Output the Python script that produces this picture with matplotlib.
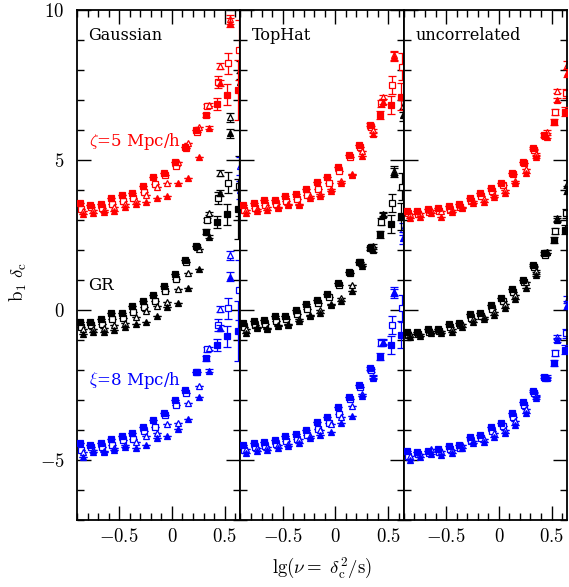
import matplotlib
matplotlib.use('Agg')
import matplotlib.pyplot as plt
from matplotlib.ticker import MultipleLocator, FuncFormatter

plt.rcParams['font.family'] = 'cmr10'
plt.rcParams['mathtext.fontset'] = 'cm'
plt.rcParams['axes.formatter.use_mathtext'] = True

# x positions (lg nu) of the square and triangle symbols
X_SQ = [-0.875, -0.775, -0.675, -0.575, -0.475, -0.375, -0.275, -0.175,
        -0.075, 0.025, 0.125, 0.225, 0.325, 0.425, 0.525, 0.625]
X_OSQ = [-0.865, -0.765, -0.665, -0.565, -0.465, -0.365, -0.265, -0.165,
         -0.065, 0.035, 0.135, 0.235, 0.335, 0.435, 0.535, 0.635]
X_TRI = [-0.845, -0.745, -0.645, -0.545, -0.445, -0.345, -0.245, -0.145,
         -0.045, 0.055, 0.155, 0.255, 0.355, 0.455, 0.555, 0.645]

# ---- Gaussian ----
G_RED_FS = [3.58, 3.50, 3.53, 3.72, 3.83, 3.91, 4.15, 4.43, 4.58, 4.94, 5.44, 6.00, 6.50, 6.87, 7.17, 7.33]
G_RED_OS = [3.38, 3.42, 3.40, 3.55, 3.65, 3.75, 3.95, 4.20, 4.50, 4.80, 5.40, 5.95, 6.80, 7.60, 8.22, 8.67]
G_RED_OT = [3.30, 3.35, 3.35, 3.45, 3.55, 3.65, 3.85, 4.10, 4.24, 4.95, 5.58, 6.10, 6.85, 8.14, 9.70, 11.5]
G_RED_FT = [3.20, 3.25, 3.28, 3.30, 3.42, 3.55, 3.60, 3.75, 3.80, 4.24, 4.39, 5.11, 6.08, 7.56, 9.58, 11.2]
G_BLK_FS = [-0.39, -0.39, -0.31, -0.11, -0.10, 0.14, 0.31, 0.50, 0.80, 1.19, 1.67, 2.14, 2.61, 2.94, 3.20, 3.36]
G_BLK_OS = [-0.55, -0.50, -0.47, -0.30, -0.25, -0.05, 0.10, 0.30, 0.62, 1.05, 1.60, 2.10, 3.00, 3.72, 4.24, 4.15]
G_BLK_OT = [-0.63, -0.62, -0.60, -0.50, -0.42, -0.22, -0.03, 0.13, 0.26, 0.69, 1.22, 2.05, 3.22, 4.56, 6.42, 8.0]
G_BLK_FT = [-0.80, -0.74, -0.72, -0.66, -0.58, -0.45, -0.40, -0.20, 0.10, 0.24, 0.72, 1.36, 2.44, 3.89, 5.89, 7.6]
G_BLU_FS = [-4.44, -4.50, -4.44, -4.30, -4.19, -4.09, -3.89, -3.67, -3.42, -3.00, -2.67, -2.06, -1.61, -1.17, -0.87, -0.69]
G_BLU_OS = [-4.67, -4.58, -4.58, -4.50, -4.33, -4.31, -4.03, -3.89, -3.50, -3.17, -2.75, -2.05, -1.31, -0.50, 0.06, 0.67]
G_BLU_OT = [-4.72, -4.67, -4.70, -4.60, -4.50, -4.40, -4.20, -4.10, -3.80, -3.75, -3.11, -2.53, -1.28, 0.02, 1.83, 4.8]
G_BLU_FT = [-4.89, -4.72, -4.72, -4.67, -4.56, -4.61, -4.50, -4.28, -4.20, -3.95, -3.64, -2.91, -2.02, -0.60, 1.11, 4.0]
G_SQ_ERR = [0, 0, 0, 0, 0, 0, 0, 0, 0, 0, 0, 0, 0.08, 0.2, 0.35, 1.0]
G_TRI_ERR = [0, 0, 0, 0, 0, 0, 0, 0, 0, 0, 0, 0, 0.05, 0.1, 0.15, 0.3]

# ---- TopHat ----
T_RED_FS = [3.50, 3.56, 3.67, 3.67, 3.81, 3.86, 4.02, 4.28, 4.44, 4.78, 5.17, 5.50, 6.17, 6.50, 6.83, 7.11]
T_RED_OS = [3.35, 3.40, 3.50, 3.55, 3.62, 3.70, 3.85, 4.05, 4.25, 4.65, 5.10, 5.45, 6.10, 6.89, 7.50, 8.11]
T_RED_OT = [3.35, 3.38, 3.42, 3.45, 3.55, 3.55, 3.80, 3.88, 4.05, 4.30, 4.55, 5.30, 6.00, 7.10, 8.50, 10.5]
T_RED_FT = [3.24, 3.30, 3.33, 3.39, 3.50, 3.50, 3.74, 3.80, 3.98, 4.22, 4.50, 5.13, 5.86, 6.95, 8.44, 10.3]
T_BLK_FS = [-0.44, -0.37, -0.33, -0.19, -0.19, 0.00, 0.19, 0.33, 0.52, 0.89, 1.28, 1.61, 2.06, 2.53, 2.87, 3.13]
T_BLK_OS = [-0.55, -0.50, -0.45, -0.35, -0.30, -0.12, 0.05, 0.22, 0.45, 0.82, 1.22, 1.60, 2.10, 2.94, 3.56, 4.11]
T_BLK_OT = [-0.62, -0.60, -0.60, -0.50, -0.45, -0.30, -0.15, 0.00, 0.20, 0.40, 0.85, 1.55, 2.15, 3.17, 4.65, 6.8]
T_BLK_FT = [-0.76, -0.58, -0.64, -0.53, -0.50, -0.36, -0.20, -0.09, 0.17, 0.31, 0.64, 1.47, 2.00, 3.20, 4.58, 6.5]
T_BLU_FS = [-4.50, -4.42, -4.39, -4.33, -4.19, -4.14, -4.00, -3.72, -3.56, -3.22, -2.89, -2.50, -1.94, -1.56, -1.17, -0.83]
T_BLU_OS = [-4.65, -4.58, -4.52, -4.48, -4.35, -4.30, -4.15, -3.95, -3.75, -3.45, -2.95, -2.55, -2.00, -1.09, -0.50, 0.06]
T_BLU_OT = [-4.62, -4.60, -4.58, -4.50, -4.45, -4.30, -4.20, -4.00, -3.80, -3.55, -3.20, -2.80, -2.25, -1.05, 0.61, 2.7]
T_BLU_FT = [-4.78, -4.70, -4.67, -4.61, -4.53, -4.44, -4.28, -4.17, -4.06, -3.78, -3.53, -2.87, -2.22, -1.09, 0.56, 2.4]
T_SQ_ERR = [0, 0, 0, 0, 0, 0, 0, 0, 0, 0, 0, 0, 0.05, 0.12, 0.3, 0.45]
T_TRI_ERR = [0, 0, 0, 0, 0, 0, 0, 0, 0, 0, 0, 0, 0.05, 0.08, 0.15, 0.2]

# ---- uncorrelated ----
U_RED_FS = [3.31, 3.30, 3.36, 3.39, 3.47, 3.52, 3.74, 3.91, 4.08, 4.24, 4.58, 4.94, 5.39, 5.83, 6.28, 6.61]
U_RED_OS = [3.22, 3.20, 3.28, 3.30, 3.35, 3.42, 3.62, 3.80, 3.98, 4.18, 4.55, 4.90, 5.35, 5.80, 6.61, 7.22]
U_RED_OT = [3.20, 3.25, 3.35, 3.30, 3.35, 3.45, 3.65, 3.70, 3.85, 4.00, 4.30, 4.70, 5.20, 5.95, 7.30, 8.17]
U_RED_FT = [3.06, 3.11, 3.22, 3.11, 3.28, 3.39, 3.56, 3.59, 3.78, 3.89, 4.22, 4.56, 5.09, 5.78, 7.00, 7.9]
U_BLK_FS = [-0.72, -0.72, -0.64, -0.64, -0.47, -0.42, -0.14, -0.11, 0.17, 0.41, 0.69, 1.00, 1.50, 1.89, 2.33, 2.67]
U_BLK_OS = [-0.82, -0.80, -0.72, -0.70, -0.58, -0.50, -0.25, -0.20, 0.05, 0.30, 0.60, 0.95, 1.45, 1.85, 2.64, 3.22]
U_BLK_OT = [-0.80, -0.80, -0.70, -0.70, -0.62, -0.48, -0.30, -0.22, -0.05, 0.20, 0.50, 0.95, 1.30, 1.95, 3.06, 4.20]
U_BLK_FT = [-0.89, -0.87, -0.78, -0.76, -0.72, -0.56, -0.39, -0.31, -0.17, 0.08, 0.36, 0.72, 1.17, 1.94, 3.00, 4.0]
U_BLU_FS = [-4.69, -4.72, -4.69, -4.64, -4.53, -4.50, -4.24, -4.17, -3.91, -3.76, -3.42, -3.06, -2.69, -2.22, -1.76, -1.33]
U_BLU_OS = [-4.85, -4.80, -4.75, -4.72, -4.62, -4.60, -4.35, -4.28, -4.02, -3.88, -3.55, -3.15, -2.75, -2.25, -1.42, -0.78]
U_BLU_OT = [-4.85, -4.80, -4.62, -4.70, -4.65, -4.50, -4.35, -4.30, -4.10, -4.00, -3.70, -3.30, -2.85, -2.22, -0.90, 0.35]
U_BLU_FT = [-5.00, -4.89, -4.80, -4.83, -4.78, -4.61, -4.44, -4.39, -4.22, -4.11, -3.83, -3.42, -2.94, -2.28, -1.00, 0.17]
U_SQ_ERR = [0, 0, 0, 0, 0, 0, 0, 0, 0, 0, 0, 0, 0.03, 0.06, 0.1, 0.15]
U_TRI_ERR = [0, 0, 0, 0, 0, 0, 0, 0, 0, 0, 0, 0, 0.03, 0.05, 0.08, 0.12]

TITLES = ['Gaussian', 'TopHat', 'uncorrelated']
COLORS = ['#ff0000', 'black', '#0000ff']

panels = [
    ([(G_RED_FS, G_RED_OS, G_RED_OT, G_RED_FT),
      (G_BLK_FS, G_BLK_OS, G_BLK_OT, G_BLK_FT),
      (G_BLU_FS, G_BLU_OS, G_BLU_OT, G_BLU_FT)], G_SQ_ERR, G_TRI_ERR),
    ([(T_RED_FS, T_RED_OS, T_RED_OT, T_RED_FT),
      (T_BLK_FS, T_BLK_OS, T_BLK_OT, T_BLK_FT),
      (T_BLU_FS, T_BLU_OS, T_BLU_OT, T_BLU_FT)], T_SQ_ERR, T_TRI_ERR),
    ([(U_RED_FS, U_RED_OS, U_RED_OT, U_RED_FT),
      (U_BLK_FS, U_BLK_OS, U_BLK_OT, U_BLK_FT),
      (U_BLU_FS, U_BLU_OS, U_BLU_OT, U_BLU_FT)], U_SQ_ERR, U_TRI_ERR),
]


def tick_fmt(v, pos):
    if abs(v) < 1e-9:
        return r'$0$'
    return r'$%g$' % v


fig = plt.figure(figsize=(5.69, 5.87), dpi=100)
left, bottom, w, h = 0.1353, 0.1141, 0.2873, 0.8688
eb = dict(capsize=3.0, elinewidth=0.9, capthick=0.9, linestyle='none', markeredgewidth=0.9)
label_font = 'DejaVu Serif'

for i, (groups, sq_err, tri_err) in enumerate(panels):
    ax = fig.add_axes([left + i * w, bottom, w, h])
    for c, (fs, osq, ot, ft) in zip(COLORS, groups):
        ax.errorbar(X_OSQ, osq, yerr=sq_err, fmt='s', ms=4.8, color=c, mfc='white', zorder=2, **eb)
        ax.errorbar(X_TRI, ot, yerr=tri_err, fmt='^', ms=4.8, color=c, mfc='white', zorder=2, **eb)
        ax.errorbar(X_TRI, ft, yerr=tri_err, fmt='^', ms=4.2, color=c, zorder=3, **eb)
        ax.errorbar(X_SQ, fs, yerr=sq_err, fmt='s', ms=5.0, color=c, zorder=4, **eb)

    ax.set_xlim(-0.9, 0.65)
    ax.set_ylim(-7, 10)
    ax.xaxis.set_major_locator(MultipleLocator(0.5))
    ax.xaxis.set_minor_locator(MultipleLocator(0.1))
    ax.yaxis.set_major_locator(MultipleLocator(5))
    ax.yaxis.set_minor_locator(MultipleLocator(1))
    ax.xaxis.set_major_formatter(FuncFormatter(tick_fmt))
    ax.yaxis.set_major_formatter(FuncFormatter(tick_fmt))
    ax.tick_params(which='both', direction='in', top=True, right=True, width=1.0, labelsize=13.5)
    ax.tick_params(which='major', length=10)
    ax.tick_params(which='minor', length=5)
    ax.tick_params(axis='x', pad=6)
    ax.tick_params(axis='y', pad=9)
    if i > 0:
        ax.tick_params(labelleft=False)
    for s in ax.spines.values():
        s.set_linewidth(1.3)

    ax.text(-0.79, 9.0, TITLES[i], fontsize=11.5, family=label_font, va='baseline')
    if i == 0:
        ax.text(-0.79, 5.48, r'$\zeta$=5 Mpc/h', fontsize=12, family=label_font,
                color=COLORS[0], va='baseline')
        ax.text(-0.79, 0.67, 'GR', fontsize=12, family=label_font, color='black', va='baseline')
        ax.text(-0.79, -2.5, r'$\xi$=8 Mpc/h', fontsize=12, family=label_font,
                color=COLORS[2], va='baseline')

fig.text(0.032, 0.52, r'$\mathrm{b}_1\ \delta_\mathrm{c}$', rotation=90, fontsize=13.5,
         ha='center', va='center')
fig.text(0.566, 0.032, r'$\mathrm{lg}(\nu=\ \delta_\mathrm{c}^2/\mathrm{s})$', fontsize=13.5,
         ha='center', va='center')

fig.savefig('out.png', dpi=100)
